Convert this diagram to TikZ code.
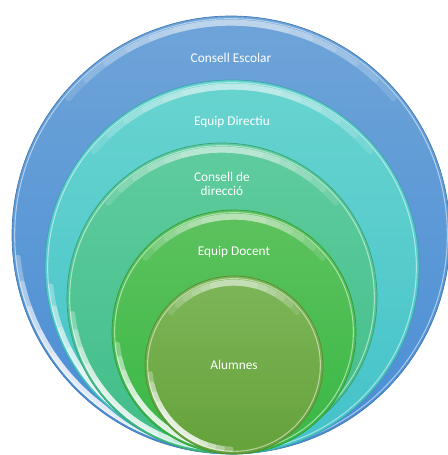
\documentclass[tikz,border=0pt]{standalone}
\usepackage{fontspec}
\setmainfont{Carlito}
\usetikzlibrary{positioning, calc}
\definecolor{escTop}{HTML}{6EA4D8}
\definecolor{escBot}{HTML}{4A8DD5}
\definecolor{dirTop}{HTML}{68D4CF}
\definecolor{dirBot}{HTML}{43C2C9}
\definecolor{cdirTop}{HTML}{60CC9E}
\definecolor{cdirBot}{HTML}{40BD88}
\definecolor{docTop}{HTML}{5EC25E}
\definecolor{docBot}{HTML}{38B845}
\definecolor{aluTop}{HTML}{7DB659}
\definecolor{aluBot}{HTML}{65A23A}

\begin{document}
\begin{tikzpicture}[x=0.75pt, y=0.75pt,
    ring/.style={shape=circle, inner sep=0pt, line width=0.5pt,
      path picture={
        \coordinate (pc) at (path picture bounding box.center);
        % soft band under the top edge
        \foreach \k in {0,...,5}
          \draw[white, opacity=.13, line width=4.5pt, line cap=round] let \p1=($(path picture bounding box.north)-(pc)$), \n1={veclen(\x1,\y1)-5pt} in
            ($(pc)+(140-7*\k:\n1)$) arc[start angle=140-7*\k, end angle=40+7*\k, radius=\n1];
        % thin rim all round
        \draw[white, opacity=.5, line width=.8pt] let \p1=($(path picture bounding box.north)-(pc)$), \n1={veclen(\x1,\y1)-2pt} in
          (pc) ++(0:\n1) arc[start angle=0, end angle=360, radius=\n1];
        % glossy rim on the lower left
        \foreach \k in {0,...,4}
          \draw[white, opacity=.3, line width=4pt, line cap=round] let \p1=($(path picture bounding box.north)-(pc)$), \n1={veclen(\x1,\y1)-3.5pt} in
            ($(pc)+(186+7*\k:\n1)$) arc[start angle=186+7*\k, end angle=268-6*\k, radius=\n1];
      }},
    lbl/.style={text=white, font=\fontsize{10}{11}\selectfont, align=center}]
  \useasboundingbox (0,0) rectangle (448,455);

  \node[ring, draw=escBot!85!black, top color=escTop, bottom color=escBot, minimum size=438*0.75pt] (esc) at (231,220) {};
  \node[ring, draw=dirBot!85!black, top color=dirTop, bottom color=dirBot, minimum size=374*0.75pt] (dir) at (232,188) {};
  \node[ring, draw=cdirBot!85!black, top color=cdirTop, bottom color=cdirBot, minimum size=310*0.75pt] (cdir) at (222,157) {};
  \node[ring, draw=docBot!85!black, top color=docTop, bottom color=docBot, minimum size=244*0.75pt] (doc) at (234,123) {};
  \node[ring, draw=aluBot!85!black, top color=aluTop, bottom color=aluBot, minimum size=178*0.75pt] (alu) at (234,90) {};

  \node[lbl] (escT) at ([yshift=-31.5pt]esc.north) {Consell Escolar};
  \node[lbl] (dirT) at ([yshift=-32pt]dir.north) {Equip Directiu};
  \node[lbl] (cdirT) at ([yshift=-31pt]cdir.north) {Consell de\\direcció};
  \node[lbl] (docT) at ([yshift=-32pt]doc.north) {Equip Docent};
  \node[lbl] (aluT) at (alu) {Alumnes};
\end{tikzpicture}
\end{document}
